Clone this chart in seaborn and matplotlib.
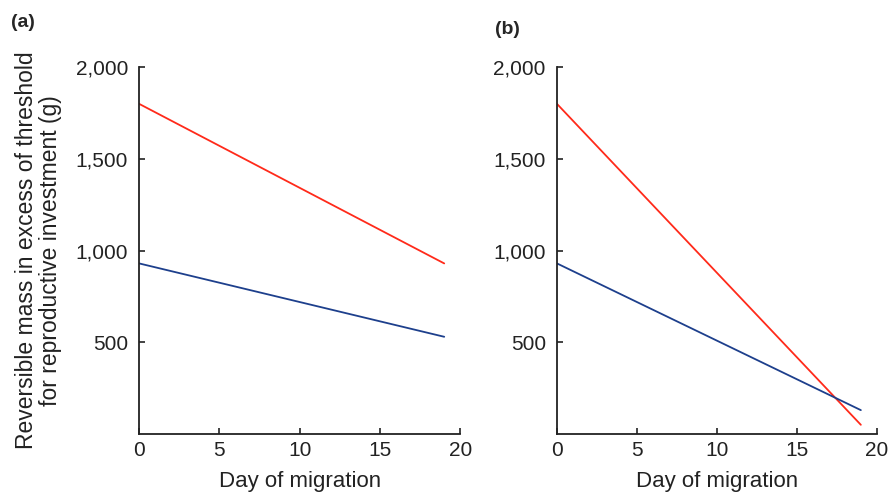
import pandas as pd
import matplotlib.pyplot as plt
import seaborn as sns

sns.set_style("ticks")
plt.rcParams['font.family'] = ['Liberation Sans', 'DejaVu Sans']

# values
days = [0, 19]
a_red = [1800, 930]
a_blue = [930, 530]
b_red = [1800, 50]
b_blue = [930, 130]
x_ticks = [0, 5, 10, 15, 20]
y_ticks = [500, 1000, 1500, 2000]
y_tick_labels = ['500', '1,000', '1,500', '2,000']

RED = '#ff2a1a'
BLUE = '#1d3f8c'
INK = '#222222'


def make_frame(red, blue):
    return pd.DataFrame({
        'Day': days * 2,
        'Mass': red + blue,
        'Series': ['red'] * len(days) + ['blue'] * len(days),
    })


def draw_panel(ax, df):
    sns.lineplot(data=df, x='Day', y='Mass', hue='Series',
                 palette={'red': RED, 'blue': BLUE}, linewidth=1.3,
                 legend=False, ax=ax)
    ax.set_xlim(0, 20)
    ax.set_ylim(0, 2000)
    ax.set_xticks(x_ticks)
    ax.set_yticks(y_ticks)
    ax.set_yticklabels(y_tick_labels)
    ax.tick_params(direction='in', length=4, width=1.2, colors=INK,
                   labelsize=15, labelcolor=INK)
    ax.tick_params(axis='x', pad=5)
    ax.tick_params(axis='y', pad=8)
    for side in ['top', 'right']:
        ax.spines[side].set_visible(False)
    for side in ['left', 'bottom']:
        ax.spines[side].set_color(INK)
        ax.spines[side].set_linewidth(1.3)
    ax.set_xlabel('Day of migration', fontsize=16, color=INK, labelpad=8)
    ax.set_ylabel('')


fig = plt.figure(figsize=(8.92, 4.94), dpi=100)
ax_a = fig.add_axes([0.156, 0.1215, 0.360, 0.7425])
ax_b = fig.add_axes([0.6244, 0.1215, 0.3586, 0.7425])

draw_panel(ax_a, make_frame(a_red, a_blue))
draw_panel(ax_b, make_frame(b_red, b_blue))

ax_a.set_ylabel('Reversible mass in excess of threshold\nfor reproductive investment (g)',
                fontsize=16.5, color=INK, labelpad=10, linespacing=1.05)

fig.text(0.012, 0.955, '(a)', fontsize=14, fontweight='bold', ha='left', va='center')
fig.text(0.555, 0.940, '(b)', fontsize=14, fontweight='bold', ha='left', va='center')

fig.savefig('out.png', dpi=100)
